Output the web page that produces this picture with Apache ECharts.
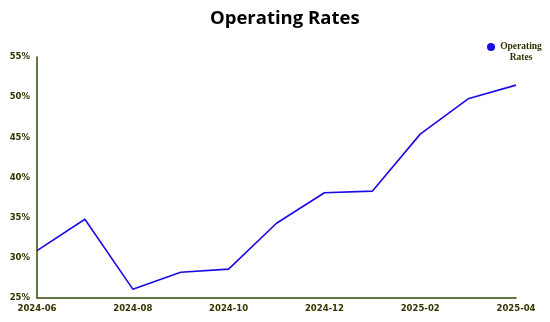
<!DOCTYPE html>
<html>
<head>
<meta charset="utf-8">
<script src="https://cdn.jsdelivr.net/npm/echarts@6/dist/echarts.min.js"></script>
<style>
  html, body { margin: 0; padding: 0; background: #fff; }
  #chart { width: 550px; height: 322px; }
</style>
</head>
<body>
<div id="chart"></div>
<script>
// Monthly operating rates (%)
const months = ['2024-06', '2024-07', '2024-08', '2024-09', '2024-10', '2024-11',
                '2024-12', '2025-01', '2025-02', '2025-03', '2025-04'];
const operatingRates = [30.9, 34.8, 26.1, 28.2, 28.6, 34.3, 38.1, 38.3, 45.4, 49.8, 51.5];
const yTicks = { min: 25, max: 55, step: 5 };

const axisColor = '#2f4a00';
const labelColor = '#333300';

const chart = echarts.init(document.getElementById('chart'));
chart.setOption({
  backgroundColor: '#ffffff',
  animation: false,
  title: {
    text: 'Operating Rates',
    left: 205,
    top: 4,
    textStyle: { fontFamily: 'Open Sans', fontWeight: 'bold', fontSize: 18.5, color: '#000' }
  },
  legend: {
    right: 3,
    top: 27,
    icon: 'circle',
    itemWidth: 8,
    itemHeight: 8,
    itemGap: 3,
    // a blank first line keeps the marker beside "Operating"
    formatter: () => '{e| }\n{c|Operating}\n{c|Rates}',
    textStyle: {
      color: labelColor,
      rich: {
        e: { fontSize: 8, lineHeight: 11 },
        c: {
          fontFamily: 'Liberation Serif',
          fontWeight: 'bold',
          fontSize: 9.5,
          color: labelColor,
          width: 42,
          align: 'center',
          lineHeight: 11
        }
      }
    }
  },
  grid: { left: 37, right: 34, top: 57, bottom: 24, containLabel: false },
  xAxis: {
    type: 'category',
    data: months,
    boundaryGap: false,
    axisLine: { lineStyle: { color: axisColor, width: 1.5 } },
    axisTick: { show: false },
    axisLabel: {
      interval: 1,
      margin: 6,
      fontFamily: 'DejaVu Sans',
      fontWeight: 'bold',
      fontSize: 8.5,
      color: labelColor
    },
    splitLine: { show: false }
  },
  yAxis: {
    type: 'value',
    min: yTicks.min,
    max: yTicks.max,
    interval: yTicks.step,
    axisLine: { show: true, lineStyle: { color: axisColor, width: 1.5 } },
    axisTick: { show: false },
    splitLine: { show: false },
    axisLabel: {
      formatter: '{value}%',
      margin: 7,
      fontFamily: 'DejaVu Sans',
      fontWeight: 'bold',
      fontSize: 8.5,
      color: labelColor
    }
  },
  series: [{
    name: 'Operating Rates',
    type: 'line',
    data: operatingRates,
    showSymbol: false,
    symbol: 'circle',
    itemStyle: { color: '#1a0ae6' },
    lineStyle: { color: '#1a0ae6', width: 1.6 }
  }]
});
</script>
</body>
</html>
